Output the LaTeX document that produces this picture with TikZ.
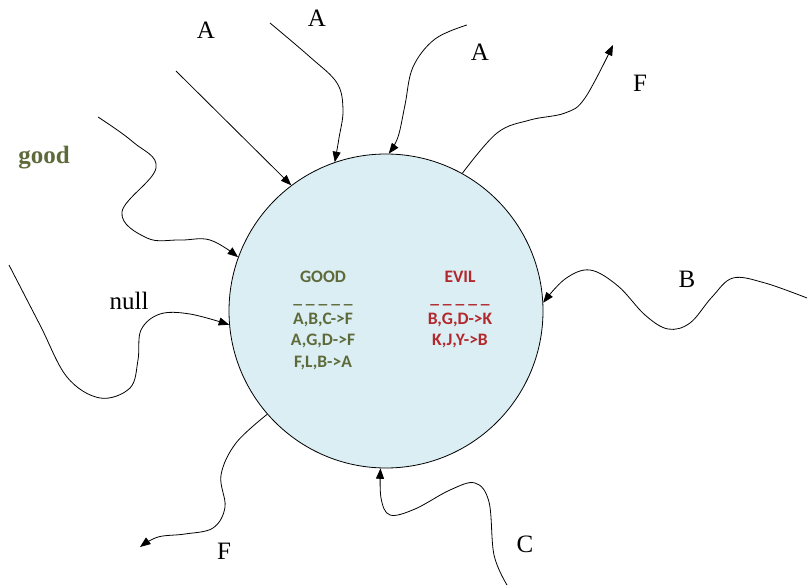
\documentclass[tikz,border=0pt]{standalone}
\usepackage{fontspec}
\setmainfont{Liberation Serif}
\newfontfamily\calib{Carlito}
\usetikzlibrary{arrows.meta}
\definecolor{olivegood}{RGB}{94,106,58}
\definecolor{redevil}{RGB}{178,40,45}
\definecolor{circfill}{RGB}{218,238,243}
\tikzset{
  lbl/.style={font=\fontsize{25}{28}\selectfont, anchor=base, inner sep=0pt},
  inner/.style={font=\calib\bfseries\fontsize{17.5}{20}\selectfont, anchor=base, inner sep=0pt},
  wave/.style={draw=black, line width=0.8pt, -{Triangle[length=10.5pt,width=8pt]}},
}
\begin{document}
\begin{tikzpicture}[x=1pt,y=-1pt]
\useasboundingbox (0,0) rectangle (808,586);
\node[circle, draw=black, line width=0.8pt, fill=circfill, minimum size=314pt, inner sep=0pt] (C) at (386,311) {};

% inner texts
\node[inner, text=olivegood] (g1) at (323,282) {GOOD};
\node[inner, text=olivegood] (g2) at (323,303) {\_ \_ \_ \_ \_};
\node[inner, text=olivegood] (g3) at (323,324) {A,B,C->F};
\node[inner, text=olivegood] (g4) at (323,345) {A,G,D->F};
\node[inner, text=olivegood] (g5) at (323,367) {F,L,B->A};
\node[inner, text=redevil] (e1) at (460,282) {EVIL};
\node[inner, text=redevil] (e2) at (460,303) {\_ \_ \_ \_ \_};
\node[inner, text=redevil] (e3) at (460,324) {B,G,D->K};
\node[inner, text=redevil] (e4) at (460,345) {K,J,Y->B};

% labels
\node[lbl] (la1) at (206,38) {A};
\node[lbl] (la2) at (317,27) {A};
\node[lbl] (la3) at (480,60) {A};
\node[lbl] (lf1) at (640,92) {F};
\node[lbl] (lb) at (687,287) {B};
\node[lbl] (lc) at (525,552) {C};
\node[lbl] (lf2) at (224,559) {F};
\node[lbl] (lnull) at (129,309) {null};
\node[lbl, font=\bfseries\fontsize{25}{28}\selectfont, text=olivegood] (lgood) at (44,163) {good};

% endpoints
\coordinate (s1) at (176,71);
\coordinate (t1) at (C.127);
\coordinate (t2) at (C.109.6);
\coordinate (t3) at (C.89.6);
\coordinate (s4) at (C.61.8);
\coordinate (t4) at (613,45);
\coordinate (t5) at (C.3);
\coordinate (t6) at (C.268);
\coordinate (s7) at (C.221.9);
\coordinate (t7) at (140,547);
\coordinate (t8) at (C.185.5);
\coordinate (t9) at (C.160.5);

\draw[wave] (s1) -- (t1);
\draw[wave] plot[smooth, tension=0.6] coordinates {(270,23) (310,57) (337,83) (343,110) (339,138) (t2)};
\draw[wave] plot[smooth, tension=0.6] coordinates {(467,25) (435,39) (413,67) (405,105) (398,137) (t3)};
\draw[wave] plot[smooth, tension=0.6] coordinates {(s4) (497,133) (530,120) (565,113) (585,98) (t4)};
\draw[wave] plot[smooth, tension=0.6] coordinates {(807,298) (765,283) (733,278) (712,297) (690,323) (668,329) (645,315) (618,286) (590,270) (565,279) (t5)};
\draw[wave] plot[smooth, tension=0.6] coordinates {(507,585) (494,555) (489,502) (475,483) (450,490) (415,509) (390,515) (381,498) (t6)};
\draw[wave] plot[smooth, tension=0.6] coordinates {(s7) (236,443) (221,475) (225,507) (213,528) (185,534) (158,537) (t7)};
\draw[wave] plot[smooth, tension=0.6] coordinates {(9,265) (40,325) (67,377) (100,398) (130,388) (138,360) (141,330) (160,314) (190,314) (t8)};
\draw[wave] plot[smooth, tension=0.65] coordinates {(98,117) (133,142) (156,168) (122,212) (147,238) (180,240) (210,240) (t9)};
\end{tikzpicture}
\end{document}
